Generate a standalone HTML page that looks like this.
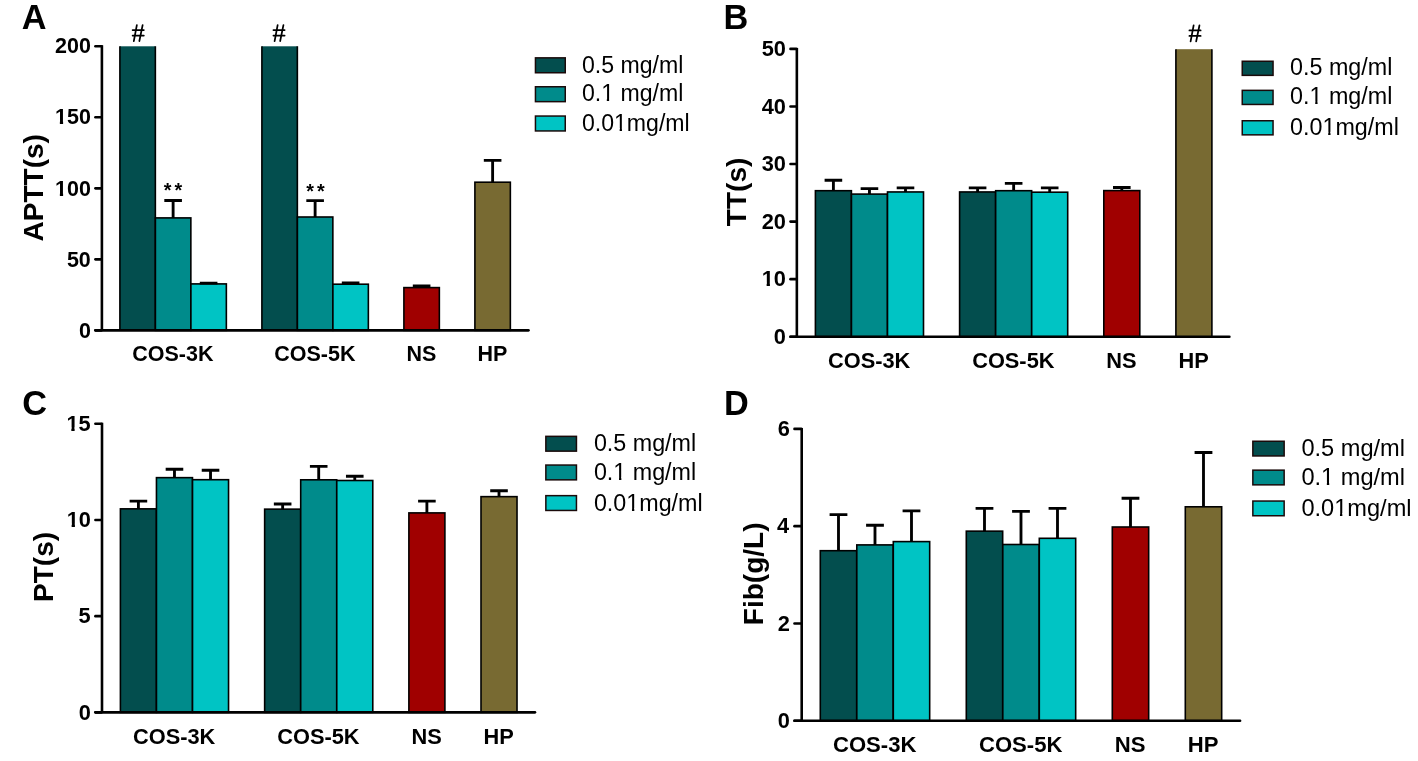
<!DOCTYPE html>
<html><head><meta charset="utf-8"><style>
html,body{margin:0;padding:0;background:#fff;width:1418px;height:761px;overflow:hidden}
#w{will-change:transform;width:1418px;height:761px}
svg{display:block}
text{font-family:"Liberation Sans",sans-serif;fill:#000}
</style></head><body><div id="w">
<svg width="1418" height="761" viewBox="0 0 1418 761">
<rect width="1418" height="761" fill="#fff"/>
<text x="21.7" y="29.2" style="font-weight:bold;font-size:34.3px">A</text>
<text transform="translate(42.8,241.4) rotate(-90)" x="0" y="0" style="font-weight:bold;font-size:28px">APTT(s)</text>
<rect x="119.9" y="46.3" width="35.45" height="284.05" fill="#034e4e"/>
<path d="M119.9 46.3V330.35M155.35 46.3V330.35" stroke="#000" stroke-width="1.6" fill="none"/>
<rect x="155.4" y="217.9" width="35.45" height="112.45" fill="#008b8b" stroke="#000" stroke-width="1.6"/>
<path d="M173.12 217.9V200.45M164.32 200.45H181.93" stroke="#000" stroke-width="2.85" fill="none"/>
<rect x="190.9" y="283.9" width="35.45" height="46.45" fill="#00c4c4" stroke="#000" stroke-width="1.6"/>
<path d="M208.62 283.9V283.1M199.82 283.1H217.43" stroke="#000" stroke-width="2.85" fill="none"/>
<rect x="261.9" y="46.3" width="35.45" height="284.05" fill="#034e4e"/>
<path d="M261.9 46.3V330.35M297.35 46.3V330.35" stroke="#000" stroke-width="1.6" fill="none"/>
<rect x="297.4" y="217" width="35.45" height="113.35" fill="#008b8b" stroke="#000" stroke-width="1.6"/>
<path d="M315.12 217V200.6M306.32 200.6H323.93" stroke="#000" stroke-width="2.85" fill="none"/>
<rect x="332.9" y="284.2" width="35.45" height="46.15" fill="#00c4c4" stroke="#000" stroke-width="1.6"/>
<path d="M350.62 284.2V283M341.82 283H359.43" stroke="#000" stroke-width="2.85" fill="none"/>
<rect x="403.9" y="287.6" width="35.45" height="42.75" fill="#a00000" stroke="#000" stroke-width="1.6"/>
<path d="M421.62 287.6V285.9M412.82 285.9H430.43" stroke="#000" stroke-width="2.85" fill="none"/>
<rect x="474.9" y="182.2" width="35.45" height="148.15" fill="#786a32" stroke="#000" stroke-width="1.6"/>
<path d="M492.62 182.2V160.3M483.82 160.3H501.43" stroke="#000" stroke-width="2.85" fill="none"/>
<path d="M101.9 45.3V330.35" stroke="#000" stroke-width="2.6" fill="none"/>
<path d="M95.4 330.35H528.5" stroke="#000" stroke-width="2.6" stroke-linecap="round" fill="none"/>
<path d="M95.4 330.35H101.5" stroke="#000" stroke-width="2.6" stroke-linecap="round"/>
<g transform="translate(0,337.55) scale(1,1.045) translate(0,-337.55)"><text x="78.9" y="337.55" style="font-weight:bold;font-size:21.5px">0</text></g>
<path d="M95.4 259.34H101.5" stroke="#000" stroke-width="2.6" stroke-linecap="round"/>
<g transform="translate(0,266.54) scale(1,1.045) translate(0,-266.54)"><text x="66.9" y="266.54" style="font-weight:bold;font-size:21.5px">50</text></g>
<path d="M95.4 188.33H101.5" stroke="#000" stroke-width="2.6" stroke-linecap="round"/>
<g transform="translate(0,195.53) scale(1,1.045) translate(0,-195.53)"><text id="t1" x="55" y="195.53" style="font-weight:bold;font-size:21.5px">100</text></g>
<path d="M95.4 117.31H101.5" stroke="#000" stroke-width="2.6" stroke-linecap="round"/>
<g transform="translate(0,124.51) scale(1,1.045) translate(0,-124.51)"><text id="t2" x="55" y="124.51" style="font-weight:bold;font-size:21.5px">150</text></g>
<path d="M95.4 46.3H101.5" stroke="#000" stroke-width="2.6" stroke-linecap="round"/>
<g transform="translate(0,53.5) scale(1,1.045) translate(0,-53.5)"><text x="55" y="53.5" style="font-weight:bold;font-size:21.5px">200</text></g>
<text x="132.18" y="360.6" style="font-weight:bold;font-size:21.5px">COS-3K</text>
<text x="274.18" y="360.6" style="font-weight:bold;font-size:21.5px">COS-5K</text>
<text x="406.43" y="360.6" style="font-weight:bold;font-size:21.5px">NS</text>
<text x="477.38" y="360.6" style="font-weight:bold;font-size:21.5px">HP</text>
<rect x="535.45" y="57.85" width="29.8" height="14.9" fill="#034e4e" stroke="#1a0a0a" stroke-width="1.5"/>
<text x="581.9" y="72.5" style="font-size:23.1px">0.5 mg/ml</text>
<rect x="535.45" y="86.75" width="29.8" height="14.9" fill="#008b8b" stroke="#1a0a0a" stroke-width="1.5"/>
<text id="t3" x="581.9" y="101.4" style="font-size:23.1px">0.1 mg/ml</text>
<rect x="535.45" y="116.05" width="29.8" height="14.9" fill="#00c4c4" stroke="#1a0a0a" stroke-width="1.5"/>
<text id="t4" x="581.9" y="130.7" style="font-size:23.1px">0.01mg/ml</text>
<path d="M136.84 25.06L133.81 41.04M142.63 25.06L139.37 41.04M132.62 30.08L143.82 30.08M132.62 35.55L143.82 35.55" stroke="#000" stroke-width="1.75" stroke-linecap="round" fill="none"/>
<path d="M277.64 25.06L274.61 41.04M283.43 25.06L280.17 41.04M273.43 30.08L284.62 30.08M273.43 35.55L284.62 35.55" stroke="#000" stroke-width="1.75" stroke-linecap="round" fill="none"/>
<text x="163.67" y="197.4" style="font-weight:bold;font-size:19.8px">*</text>
<text x="174.53" y="197.4" style="font-weight:bold;font-size:19.8px">*</text>
<text x="306.18" y="197.5" style="font-weight:bold;font-size:19.8px">*</text>
<text x="317.03" y="197.5" style="font-weight:bold;font-size:19.8px">*</text>
<text x="723.5" y="29.2" style="font-weight:bold;font-size:34.3px">B</text>
<text transform="translate(746.1,226.15) rotate(-90)" x="0" y="0" style="font-weight:bold;font-size:28px">TT(s)</text>
<rect x="815.4" y="190.7" width="36" height="146" fill="#034e4e" stroke="#000" stroke-width="1.6"/>
<path d="M833.4 190.7V180.2M824.6 180.2H842.2" stroke="#000" stroke-width="2.85" fill="none"/>
<rect x="851.45" y="194.1" width="36" height="142.6" fill="#008b8b" stroke="#000" stroke-width="1.6"/>
<path d="M869.45 194.1V188.6M860.65 188.6H878.25" stroke="#000" stroke-width="2.85" fill="none"/>
<rect x="887.5" y="191.95" width="36" height="144.75" fill="#00c4c4" stroke="#000" stroke-width="1.6"/>
<path d="M905.5 191.95V187.9M896.7 187.9H914.3" stroke="#000" stroke-width="2.85" fill="none"/>
<rect x="959.6" y="191.95" width="36" height="144.75" fill="#034e4e" stroke="#000" stroke-width="1.6"/>
<path d="M977.6 191.95V187.85M968.8 187.85H986.4" stroke="#000" stroke-width="2.85" fill="none"/>
<rect x="995.65" y="190.7" width="36" height="146" fill="#008b8b" stroke="#000" stroke-width="1.6"/>
<path d="M1013.65 190.7V183.4M1004.85 183.4H1022.45" stroke="#000" stroke-width="2.85" fill="none"/>
<rect x="1031.7" y="192.2" width="36" height="144.5" fill="#00c4c4" stroke="#000" stroke-width="1.6"/>
<path d="M1049.7 192.2V187.85M1040.9 187.85H1058.5" stroke="#000" stroke-width="2.85" fill="none"/>
<rect x="1103.8" y="190.6" width="36" height="146.1" fill="#a00000" stroke="#000" stroke-width="1.6"/>
<path d="M1121.8 190.6V187.45M1113 187.45H1130.6" stroke="#000" stroke-width="2.85" fill="none"/>
<rect x="1175.9" y="49.2" width="36" height="287.5" fill="#786a32"/>
<path d="M1175.9 49.2V336.7M1211.9 49.2V336.7" stroke="#000" stroke-width="1.6" fill="none"/>
<path d="M796.85 47.9V336.7" stroke="#000" stroke-width="2.6" fill="none"/>
<path d="M790.5 336.7H1229.4" stroke="#000" stroke-width="2.6" stroke-linecap="round" fill="none"/>
<path d="M790.5 336.7H796.45" stroke="#000" stroke-width="2.6" stroke-linecap="round"/>
<g transform="translate(0,343.9) scale(1,1.045) translate(0,-343.9)"><text x="773.8" y="343.9" style="font-weight:bold;font-size:21.8px">0</text></g>
<path d="M790.5 279.14H796.45" stroke="#000" stroke-width="2.6" stroke-linecap="round"/>
<g transform="translate(0,286.34) scale(1,1.045) translate(0,-286.34)"><text id="t5" x="761.7" y="286.34" style="font-weight:bold;font-size:21.8px">10</text></g>
<path d="M790.5 221.58H796.45" stroke="#000" stroke-width="2.6" stroke-linecap="round"/>
<g transform="translate(0,228.78) scale(1,1.045) translate(0,-228.78)"><text x="761.7" y="228.78" style="font-weight:bold;font-size:21.8px">20</text></g>
<path d="M790.5 164.02H796.45" stroke="#000" stroke-width="2.6" stroke-linecap="round"/>
<g transform="translate(0,171.22) scale(1,1.045) translate(0,-171.22)"><text x="761.7" y="171.22" style="font-weight:bold;font-size:21.8px">30</text></g>
<path d="M790.5 106.46H796.45" stroke="#000" stroke-width="2.6" stroke-linecap="round"/>
<g transform="translate(0,113.66) scale(1,1.045) translate(0,-113.66)"><text x="761.7" y="113.66" style="font-weight:bold;font-size:21.8px">40</text></g>
<path d="M790.5 48.9H796.45" stroke="#000" stroke-width="2.6" stroke-linecap="round"/>
<g transform="translate(0,56.1) scale(1,1.045) translate(0,-56.1)"><text x="761.7" y="56.1" style="font-weight:bold;font-size:21.8px">50</text></g>
<text x="827.95" y="367.9" style="font-weight:bold;font-size:21.8px">COS-3K</text>
<text x="972.15" y="367.9" style="font-weight:bold;font-size:21.8px">COS-5K</text>
<text x="1106.35" y="367.9" style="font-weight:bold;font-size:21.8px">NS</text>
<text x="1178.4" y="367.9" style="font-weight:bold;font-size:21.8px">HP</text>
<rect x="1242.25" y="61.25" width="30.8" height="14.1" fill="#034e4e" stroke="#1a0a0a" stroke-width="1.5"/>
<text x="1290.1" y="75.4" style="font-size:23.3px">0.5 mg/ml</text>
<rect x="1242.25" y="90.35" width="30.8" height="14.1" fill="#008b8b" stroke="#1a0a0a" stroke-width="1.5"/>
<text id="t6" x="1290.1" y="104.4" style="font-size:23.3px">0.1 mg/ml</text>
<rect x="1242.25" y="120.75" width="30.8" height="14.1" fill="#00c4c4" stroke="#1a0a0a" stroke-width="1.5"/>
<text id="t7" x="1290.1" y="134.5" style="font-size:23.3px">0.01mg/ml</text>
<path d="M1193.64 25.46L1190.61 41.44M1199.43 25.46L1196.17 41.44M1189.42 30.48L1200.62 30.48M1189.42 35.95L1200.62 35.95" stroke="#000" stroke-width="1.75" stroke-linecap="round" fill="none"/>
<text x="22.2" y="414.95" style="font-weight:bold;font-size:34.3px">C</text>
<text transform="translate(52.8,601.95) rotate(-90)" x="0" y="0" style="font-weight:bold;font-size:28px">PT(s)</text>
<rect x="120.4" y="508.85" width="36.02" height="203.5" fill="#034e4e" stroke="#000" stroke-width="1.6"/>
<path d="M138.41 508.85V501.15M129.61 501.15H147.21" stroke="#000" stroke-width="2.85" fill="none"/>
<rect x="156.46" y="477.65" width="36.02" height="234.7" fill="#008b8b" stroke="#000" stroke-width="1.6"/>
<path d="M174.47 477.65V469.2M165.67 469.2H183.27" stroke="#000" stroke-width="2.85" fill="none"/>
<rect x="192.52" y="479.7" width="36.02" height="232.65" fill="#00c4c4" stroke="#000" stroke-width="1.6"/>
<path d="M210.53 479.7V470.2M201.73 470.2H219.33" stroke="#000" stroke-width="2.85" fill="none"/>
<rect x="264.64" y="509.15" width="36.02" height="203.2" fill="#034e4e" stroke="#000" stroke-width="1.6"/>
<path d="M282.65 509.15V504M273.85 504H291.45" stroke="#000" stroke-width="2.85" fill="none"/>
<rect x="300.7" y="479.8" width="36.02" height="232.55" fill="#008b8b" stroke="#000" stroke-width="1.6"/>
<path d="M318.71 479.8V466.35M309.91 466.35H327.51" stroke="#000" stroke-width="2.85" fill="none"/>
<rect x="336.76" y="480.5" width="36.02" height="231.85" fill="#00c4c4" stroke="#000" stroke-width="1.6"/>
<path d="M354.77 480.5V476.25M345.97 476.25H363.57" stroke="#000" stroke-width="2.85" fill="none"/>
<rect x="408.88" y="512.9" width="36.02" height="199.45" fill="#a00000" stroke="#000" stroke-width="1.6"/>
<path d="M426.89 512.9V501.1M418.09 501.1H435.69" stroke="#000" stroke-width="2.85" fill="none"/>
<rect x="481" y="496.65" width="36.02" height="215.7" fill="#786a32" stroke="#000" stroke-width="1.6"/>
<path d="M499.01 496.65V490.7M490.21 490.7H507.81" stroke="#000" stroke-width="2.85" fill="none"/>
<path d="M102 422.8V712.35" stroke="#000" stroke-width="2.6" fill="none"/>
<path d="M95.4 712.35H535" stroke="#000" stroke-width="2.6" stroke-linecap="round" fill="none"/>
<path d="M95.4 712.35H101.6" stroke="#000" stroke-width="2.6" stroke-linecap="round"/>
<g transform="translate(0,719.55) scale(1,1.045) translate(0,-719.55)"><text x="78.8" y="719.55" style="font-weight:bold;font-size:21.8px">0</text></g>
<path d="M95.4 616.17H101.6" stroke="#000" stroke-width="2.6" stroke-linecap="round"/>
<g transform="translate(0,623.37) scale(1,1.045) translate(0,-623.37)"><text x="78.5" y="623.37" style="font-weight:bold;font-size:21.8px">5</text></g>
<path d="M95.4 519.98H101.6" stroke="#000" stroke-width="2.6" stroke-linecap="round"/>
<g transform="translate(0,527.18) scale(1,1.045) translate(0,-527.18)"><text id="t8" x="66.7" y="527.18" style="font-weight:bold;font-size:21.8px">10</text></g>
<path d="M95.4 423.8H101.6" stroke="#000" stroke-width="2.6" stroke-linecap="round"/>
<g transform="translate(0,431) scale(1,1.045) translate(0,-431)"><text id="t9" x="66.4" y="431" style="font-weight:bold;font-size:21.8px">15</text></g>
<text x="132.97" y="743.6" style="font-weight:bold;font-size:21.8px">COS-3K</text>
<text x="277.21" y="743.6" style="font-weight:bold;font-size:21.8px">COS-5K</text>
<text x="411.44" y="743.6" style="font-weight:bold;font-size:21.8px">NS</text>
<text x="483.51" y="743.6" style="font-weight:bold;font-size:21.8px">HP</text>
<rect x="545.85" y="436.35" width="30.6" height="14.8" fill="#034e4e" stroke="#1a0a0a" stroke-width="1.5"/>
<text x="593.9" y="451" style="font-size:23.3px">0.5 mg/ml</text>
<rect x="545.85" y="465.05" width="30.6" height="14.8" fill="#008b8b" stroke="#1a0a0a" stroke-width="1.5"/>
<text id="t10" x="593.9" y="480" style="font-size:23.3px">0.1 mg/ml</text>
<rect x="545.85" y="495.65" width="30.6" height="14.8" fill="#00c4c4" stroke="#1a0a0a" stroke-width="1.5"/>
<text id="t11" x="593.9" y="510.7" style="font-size:23.3px">0.01mg/ml</text>
<text x="724.1" y="414.8" style="font-weight:bold;font-size:34.3px">D</text>
<text transform="translate(762.5,625.15) rotate(-90)" x="0" y="0" style="font-weight:bold;font-size:28px">Fib(g/L)</text>
<rect x="820.3" y="550.7" width="36.38" height="170" fill="#034e4e" stroke="#000" stroke-width="1.6"/>
<path d="M838.49 550.7V514.6M829.59 514.6H847.39" stroke="#000" stroke-width="2.85" fill="none"/>
<rect x="856.8" y="544.9" width="36.38" height="175.8" fill="#008b8b" stroke="#000" stroke-width="1.6"/>
<path d="M874.99 544.9V525.2M866.09 525.2H883.89" stroke="#000" stroke-width="2.85" fill="none"/>
<rect x="893.3" y="541.6" width="36.38" height="179.1" fill="#00c4c4" stroke="#000" stroke-width="1.6"/>
<path d="M911.49 541.6V510.9M902.59 510.9H920.39" stroke="#000" stroke-width="2.85" fill="none"/>
<rect x="966.3" y="531.15" width="36.38" height="189.55" fill="#034e4e" stroke="#000" stroke-width="1.6"/>
<path d="M984.49 531.15V508.3M975.59 508.3H993.39" stroke="#000" stroke-width="2.85" fill="none"/>
<rect x="1002.8" y="544.5" width="36.38" height="176.2" fill="#008b8b" stroke="#000" stroke-width="1.6"/>
<path d="M1020.99 544.5V511.3M1012.09 511.3H1029.89" stroke="#000" stroke-width="2.85" fill="none"/>
<rect x="1039.3" y="538.3" width="36.38" height="182.4" fill="#00c4c4" stroke="#000" stroke-width="1.6"/>
<path d="M1057.49 538.3V508.3M1048.59 508.3H1066.39" stroke="#000" stroke-width="2.85" fill="none"/>
<rect x="1112.3" y="527" width="36.38" height="193.7" fill="#a00000" stroke="#000" stroke-width="1.6"/>
<path d="M1130.49 527V498.2M1121.59 498.2H1139.39" stroke="#000" stroke-width="2.85" fill="none"/>
<rect x="1185.3" y="506.8" width="36.38" height="213.9" fill="#786a32" stroke="#000" stroke-width="1.6"/>
<path d="M1203.49 506.8V452.5M1194.59 452.5H1212.39" stroke="#000" stroke-width="2.85" fill="none"/>
<path d="M801.7 427.9V720.7" stroke="#000" stroke-width="2.6" fill="none"/>
<path d="M794.5 720.7H1240.1" stroke="#000" stroke-width="2.6" stroke-linecap="round" fill="none"/>
<path d="M794.5 720.7H801.3" stroke="#000" stroke-width="2.6" stroke-linecap="round"/>
<g transform="translate(0,727.9) scale(1,1.045) translate(0,-727.9)"><text x="777.8" y="727.9" style="font-weight:bold;font-size:21.8px">0</text></g>
<path d="M794.5 623.43H801.3" stroke="#000" stroke-width="2.6" stroke-linecap="round"/>
<g transform="translate(0,630.63) scale(1,1.045) translate(0,-630.63)"><text x="777.7" y="630.63" style="font-weight:bold;font-size:21.8px">2</text></g>
<path d="M794.5 526.17H801.3" stroke="#000" stroke-width="2.6" stroke-linecap="round"/>
<g transform="translate(0,533.37) scale(1,1.045) translate(0,-533.37)"><text x="777" y="533.37" style="font-weight:bold;font-size:21.8px">4</text></g>
<path d="M794.5 428.9H801.3" stroke="#000" stroke-width="2.6" stroke-linecap="round"/>
<g transform="translate(0,436.1) scale(1,1.045) translate(0,-436.1)"><text x="777.7" y="436.1" style="font-weight:bold;font-size:21.8px">6</text></g>
<text x="832.94" y="751.9" style="font-weight:bold;font-size:22.1px">COS-3K</text>
<text x="978.94" y="751.9" style="font-weight:bold;font-size:22.1px">COS-5K</text>
<text x="1114.79" y="751.9" style="font-weight:bold;font-size:22.1px">NS</text>
<text x="1187.74" y="751.9" style="font-weight:bold;font-size:22.1px">HP</text>
<rect x="1252.85" y="441.25" width="31.3" height="14.7" fill="#034e4e" stroke="#1a0a0a" stroke-width="1.5"/>
<text x="1301.4" y="456" style="font-size:23.6px">0.5 mg/ml</text>
<rect x="1252.85" y="470.15" width="31.3" height="14.7" fill="#008b8b" stroke="#1a0a0a" stroke-width="1.5"/>
<text id="t12" x="1301.4" y="484.9" style="font-size:23.6px">0.1 mg/ml</text>
<rect x="1252.85" y="501.05" width="31.3" height="14.7" fill="#00c4c4" stroke="#1a0a0a" stroke-width="1.5"/>
<text id="t13" x="1301.4" y="515.8" style="font-size:23.6px">0.01mg/ml</text>
<rect x="55" y="191.87" width="4.86" height="4.46" fill="#fff"/>
<rect x="63.1" y="191.87" width="4" height="4.46" fill="#fff"/>
<rect x="55" y="120.86" width="4.86" height="4.46" fill="#fff"/>
<rect x="63.1" y="120.86" width="4" height="4.46" fill="#fff"/>
<rect x="601.61" y="98.74" width="5.19" height="3.46" fill="#fff"/>
<rect x="609.13" y="98.74" width="4.76" height="3.46" fill="#fff"/>
<rect x="614.46" y="128.04" width="5.19" height="3.46" fill="#fff"/>
<rect x="621.97" y="128.04" width="4.76" height="3.46" fill="#fff"/>
<rect x="761.7" y="282.63" width="4.93" height="4.51" fill="#fff"/>
<rect x="769.92" y="282.63" width="4.05" height="4.51" fill="#fff"/>
<rect x="1309.99" y="101.72" width="5.23" height="3.48" fill="#fff"/>
<rect x="1317.57" y="101.72" width="4.8" height="3.48" fill="#fff"/>
<rect x="1322.94" y="131.82" width="5.23" height="3.48" fill="#fff"/>
<rect x="1330.52" y="131.82" width="4.8" height="3.48" fill="#fff"/>
<rect x="66.7" y="523.48" width="4.93" height="4.51" fill="#fff"/>
<rect x="74.92" y="523.48" width="4.05" height="4.51" fill="#fff"/>
<rect x="66.4" y="427.29" width="4.93" height="4.51" fill="#fff"/>
<rect x="74.62" y="427.29" width="4.05" height="4.51" fill="#fff"/>
<rect x="613.79" y="477.32" width="5.23" height="3.48" fill="#fff"/>
<rect x="621.37" y="477.32" width="4.8" height="3.48" fill="#fff"/>
<rect x="626.74" y="508.02" width="5.23" height="3.48" fill="#fff"/>
<rect x="634.32" y="508.02" width="4.8" height="3.48" fill="#fff"/>
<rect x="1321.54" y="482.19" width="5.3" height="3.51" fill="#fff"/>
<rect x="1329.22" y="482.19" width="4.86" height="3.51" fill="#fff"/>
<rect x="1334.67" y="513.09" width="5.3" height="3.51" fill="#fff"/>
<rect x="1342.35" y="513.09" width="4.86" height="3.51" fill="#fff"/>
</svg>
</div></body></html>
